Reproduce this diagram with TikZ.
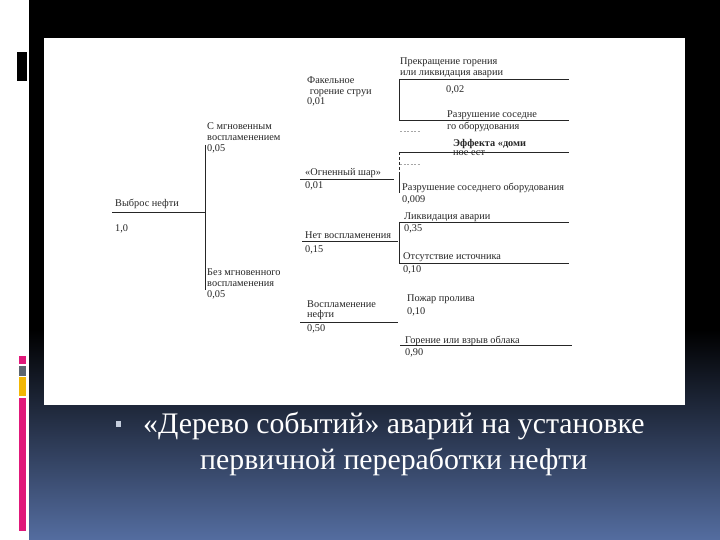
\documentclass[tikz,border=0pt]{standalone}
\usepackage{fontspec}
\setmainfont{Liberation Serif}
\definecolor{slidebottom}{HTML}{546DA0}
\definecolor{barpink}{HTML}{E0197A}
\definecolor{bargray}{HTML}{5C6670}
\definecolor{baryellow}{HTML}{F2B705}
\definecolor{bulletgray}{HTML}{C5CEDD}
\tikzset{
	lbl/.style={anchor=base west, inner sep=0pt, align=left, text=black!85,
		font=\fontsize{10.3}{11}\selectfont},
	tree/.style={line width=0.8pt, black!85},
	faint/.style={line width=0.6pt, black!35, dash pattern=on 2pt off 1.5pt},
	title/.style={anchor=base west, inner sep=0pt, text=white,
		font=\fontsize{29.8}{34}\selectfont}
}
\begin{document}
\begin{tikzpicture}[x=1pt, y=-1pt]
	\useasboundingbox (0,0) rectangle (720,540);
	
	% Slide background
	\fill[white] (0,0) rectangle (29,540);
	\fill[black] (29,0) rectangle (720,540);
	\shade[top color=black, bottom color=slidebottom] (29,330) rectangle (720,540);
	
	% Side bars
	\fill[black] (17,52) rectangle (27,81);
	\fill[barpink] (19,356) rectangle (26,364);
	\fill[bargray] (19,366) rectangle (26,376);
	\fill[baryellow] (19,377) rectangle (26,396);
	\fill[barpink] (19,398) rectangle (26,531);
	
	% Picture area
	\fill[white] (44,38) rectangle (685,405);
	
	% Level 1 (multi-line nodes sit on their last baseline)
	\node[lbl] (spill) at (115,207) {Выброс нефти};
	\node[lbl] (spillp) at (115,232) {1,0};
	\node[lbl] (instant) at (207,152) {С мгновенным\\воспламенением\\0,05};
	\node[lbl] (delayed) at (207,297) {Без мгновенного\\воспламенения\\0,05};
	\coordinate (s0) at (112,212);
	\coordinate (s1) at (205,212);
	\coordinate (b0) at (205,145);
	\coordinate (b1) at (205,290);
	\draw[tree] (s0) -- (s1);
	\draw[tree] (b0) -- (b1);
	
	% Level 2
	\node[lbl] (jet) at (307,105) {Факельное\\[-0.5pt]\ горение струи\\[-0.5pt]0,01};
	\node[lbl] (ball) at (305,176) {«Огненный шар»};
	\node[lbl] (ballp) at (305,189) {0,01};
	\node[lbl] (noign) at (305,239) {Нет воспламенения};
	\node[lbl] (noignp) at (305,252) {0,15};
	\node[lbl] (ign) at (307,317) {Воспламенение\\[-1pt]нефти};
	\node[lbl] (ignp) at (307,331) {0,50};
	\coordinate (ball0) at (300,179);
	\coordinate (ball1) at (394,179);
	\coordinate (noign0) at (302,241);
	\coordinate (noign1) at (398,241);
	\coordinate (ign0) at (300,322);
	\coordinate (ign1) at (398,322);
	\draw[tree] (ball0) -- (ball1);
	\draw[tree] (noign0) -- (noign1);
	\draw[tree] (ign0) -- (ign1);
	
	% Level 3
	\node[lbl] (stop) at (400,76) {Прекращение горения\\или ликвидация аварии};
	\node[lbl] (stopp) at (446,93) {0,02};
	\node[lbl] (near) at (447,130) {Разрушение соседне\\[1pt]го оборудования};
	\node[lbl] (domino) at (453,156) {\bfseries Эффекта «доми\\[-2pt]ное ест};
	\node[lbl] (nearall) at (402,191) {Разрушение соседнего оборудования};
	\node[lbl] (nearallp) at (402,203) {0,009};
	\node[lbl] (liq) at (404,219) {Ликвидация аварии};
	\node[lbl] (liqp) at (404,232) {0,35};
	\node[lbl] (nosrc) at (403,259) {Отсутствие источника};
	\node[lbl] (nosrcp) at (403,272) {0,10};
	\node[lbl] (pool) at (407,301) {Пожар пролива};
	\node[lbl] (poolp) at (407,314) {0,10};
	\node[lbl] (cloud) at (405,343) {Горение или взрыв облака};
	\node[lbl] (cloudp) at (405,355) {0,90};
	
	% Branch lines of level 3
	\foreach \name/\y in {ta/79,tb/120,tc/152,td/222,te/263}{
		\coordinate (\name0) at (399,\y);
		\coordinate (\name1) at (569,\y);
		\draw[tree] (\name0) -- (\name1);
	}
	\coordinate (cl0) at (400,345);
	\coordinate (cl1) at (572,345);
	\draw[tree] (cl0) -- (cl1);
	\coordinate (tm) at (399,175);
	\coordinate (tf) at (399,193);
	\draw[tree] (ta0) -- (tb0);
	\draw[tree] (td0) -- (te0);
	\draw[tree, dash pattern=on 3pt off 2pt] (tc0) -- (tm);
	\draw[tree] (tm) -- (tf);
	
	% Faded marks
	\coordinate (fa0) at (400,131);
	\coordinate (fa1) at (420,131);
	\coordinate (fb0) at (400,164);
	\coordinate (fb1) at (420,164);
	\draw[faint] (fa0) -- (fa1);
	\draw[faint] (fb0) -- (fb1);
	
	% Caption
	\fill[bulletgray] (116,421) rectangle (121,427);
	\node[title] (cap1) at (143,433) {«Дерево событий» аварий на установке};
	\node[title] (cap2) at (200,469) {первичной переработки нефти};
	
\end{tikzpicture}
\end{document}
